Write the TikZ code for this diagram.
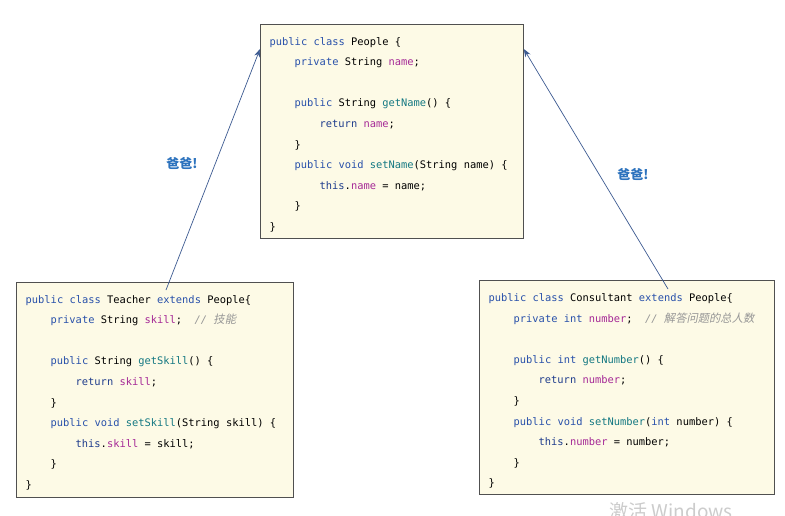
\documentclass[tikz,border=0pt]{standalone}
\usepackage{fontspec}
\setmonofont{DejaVu Sans Mono}
\newfontfamily\cjkfont{Noto Sans CJK SC}
\newfontfamily\cjkslant[FakeSlant=0.2]{Noto Sans CJK SC}
\usetikzlibrary{arrows.meta}
\definecolor{kwc}{RGB}{40,80,170}
\definecolor{kwd}{RGB}{30,60,140}
\definecolor{fdc}{RGB}{165,40,150}
\definecolor{mtc}{RGB}{20,120,130}
\definecolor{cmc}{RGB}{150,150,150}
\definecolor{boxfill}{RGB}{253,250,230}
\definecolor{boxdraw}{RGB}{80,80,80}
\definecolor{arrc}{RGB}{60,90,145}
\definecolor{lblc}{RGB}{45,115,190}
\newcommand\kw[1]{\textcolor{kwc}{#1}}
\newcommand\kwb[1]{\textcolor{kwd}{#1}}
\newcommand\fd[1]{\textcolor{fdc}{#1}}
\newcommand\mt[1]{\textcolor{mtc}{#1}}
\newcommand\cm[1]{\textcolor{cmc}{\itshape #1}}
\newcommand\cjkc[1]{{\cjkslant\fontsize{11.3}{20.6}\selectfont #1}}
\newcommand\indA{\hspace*{25pt}}
\newcommand\indB{\hspace*{50pt}}
\begin{document}
\begin{tikzpicture}[x=1pt,y=-1pt,
  classbox/.style={draw=boxdraw, line width=0.8pt, fill=boxfill, anchor=north west, inner sep=0pt},
  code/.style={anchor=base west, align=left, inner sep=0pt,
    font=\ttfamily\fontsize{10.4}{20.6}\selectfont},
  inherit/.style={draw=arrc, line width=0.7pt, -{Stealth[length=8pt,width=6pt]}},
  lbl/.style={text=lblc, font=\cjkfont\bfseries\fontsize{13}{15}\selectfont}]
\useasboundingbox[fill=white] (0,0) rectangle (785,515);

% boxes
\node[classbox, minimum width=263pt, minimum height=214pt] (people) at (260,24) {};
\node[classbox, minimum width=277pt, minimum height=215pt] (teacher) at (16,282) {};
\node[classbox, minimum width=295pt, minimum height=214pt] (consultant) at (479,280) {};

% code (base anchor = baseline of the last line)
\node[code] (pcode) at (269.5,230.4) {%
\kw{public} \kw{class} People \{\\
\indA\kw{private} String \fd{name};\\
\mbox{}\\
\indA\kw{public} String \mt{getName}() \{\\
\indB\kwb{return} \fd{name};\\
\indA\}\\
\indA\kw{public} \kw{void} \mt{setName}(String name) \{\\
\indB\kwb{this}.\fd{name} = name;\\
\indA\}\\
\}};

\node[code] (tcode) at (25.5,488.4) {%
\kw{public} \kw{class} Teacher \kw{extends} People\{\\
\indA\kw{private} String \fd{skill};\ \ \cm{// \cjkc{技能}}\\
\mbox{}\\
\indA\kw{public} String \mt{getSkill}() \{\\
\indB\kwb{return} \fd{skill};\\
\indA\}\\
\indA\kw{public} \kw{void} \mt{setSkill}(String skill) \{\\
\indB\kwb{this}.\fd{skill} = skill;\\
\indA\}\\
\}};

\node[code] (ccode) at (488.5,486.9) {%
\kw{public} \kw{class} Consultant \kw{extends} People\{\\
\indA\kw{private} \kw{int} \fd{number};\ \ \cm{// \cjkc{解答问题的总人数}}\\
\mbox{}\\
\indA\kw{public} \kw{int} \mt{getNumber}() \{\\
\indB\kwb{return} \fd{number};\\
\indA\}\\
\indA\kw{public} \kw{void} \mt{setNumber}(\kw{int} number) \{\\
\indB\kwb{this}.\fd{number} = number;\\
\indA\}\\
\}};

% connectors
\coordinate (tstart) at ([xshift=150pt,yshift=-8pt]teacher.north west);
\coordinate (cstart) at ([xshift=189pt,yshift=-9pt]consultant.north west);
\coordinate (pleft) at ([yshift=-25pt]people.north west);
\coordinate (pright) at ([yshift=-25pt]people.north east);
\draw[inherit] (tstart) -- (pleft);
\draw[inherit] (cstart) -- (pright);

% labels
\node[lbl] (l1) at (182,163) {爸爸!};
\node[lbl] (l2) at (633,174) {爸爸!};

% watermark
\node[text=black!20, font=\cjkfont\fontsize{19}{22}\selectfont, anchor=west] (wm) at (606,511) {激活 Windows};
\end{tikzpicture}
\end{document}
